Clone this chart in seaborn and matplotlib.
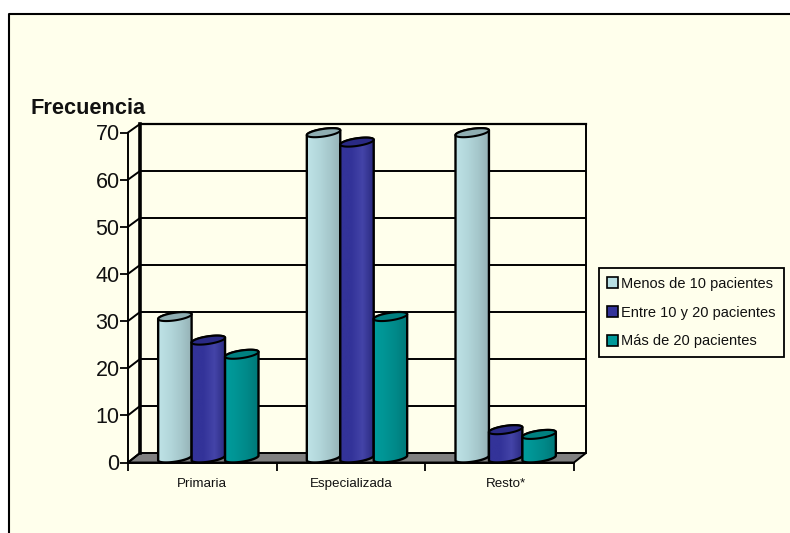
import numpy as np
import pandas as pd
import matplotlib
matplotlib.use("Agg")
import matplotlib.pyplot as plt
from matplotlib.patches import Patch, Polygon, Rectangle
from matplotlib.colors import LinearSegmentedColormap
import seaborn as sns

categories = ["Primaria", "Especializada", "Resto*"]
series_names = ["Menos de 10 pacientes", "Entre 10 y 20 pacientes", "Más de 20 pacientes"]
menos_10 = [30, 69, 69]
entre_10_20 = [25, 67, 6]
mas_20 = [22, 30, 5]
y_ticks = [0, 10, 20, 30, 40, 50, 60, 70]

colors = ["#B8DFE3", "#333399", "#009999"]
grad = [["#BEE3E7", "#B4D8DC", "#A6C8CC", "#96B2B6"],
        ["#333399", "#333399", "#4444A8", "#2A2A80"],
        ["#009C9C", "#009494", "#008888", "#007878"]]
tops = ["#8FAEB2", "#2A2A85", "#008080"]
CREAM = "#FFFFEC"

sns.set_theme(style="white")
plt.rcParams["font.family"] = ["Liberation Sans", "DejaVu Sans"]

W, H = 790, 533
fig = plt.figure(figsize=(W / 100, H / 100), dpi=100, facecolor="white")


def px_axes(x0, x1, ytop, ybot, z):
    a = fig.add_axes([x0 / W, 1 - ybot / H, (x1 - x0) / W, (ybot - ytop) / H], zorder=z)
    a.set_xlim(-0.5, 2.5)
    a.set_ylim(0, 70)
    a.patch.set_visible(False)
    return a


# chart area and floor, in pixel space
bg = fig.add_axes([0, 0, 1, 1], zorder=0)
bg.set_xlim(0, W)
bg.set_ylim(H, 0)
bg.axis("off")
FX0, FX1, FY0, FY1 = 128, 574, 462.5, 132.5   # front plane
BX0, BX1, BY0, BY1 = 140, 586, 453, 124       # back wall
bg.add_patch(Rectangle((9, 14), W - 9, H - 14, fc=CREAM, ec="none"))
bg.plot([9, 9, W], [H, 14, 14], color="black", lw=1.5, solid_capstyle="butt")
bg.add_patch(Polygon([(FX0, FY0), (BX0, BY0), (BX1, BY0), (FX1, FY0)],
                     fc="#808080", ec="black", lw=1.4))
for v in y_ticks:
    f = v / 70
    bg.plot([FX0, BX0], [FY0 + (FY1 - FY0) * f, BY0 + (BY1 - BY0) * f],
            color="black", lw=1.4)

# back wall
back = px_axes(BX0, BX1, BY1, BY0, 1)
back.set_yticks(y_ticks[1:-1])
back.set_xticks([])
back.tick_params(left=False, labelleft=False)
back.grid(axis="y", color="black", lw=1.4)
back.set_axisbelow(True)
for s, lw in [("left", 2.6), ("top", 1.6), ("right", 1.4), ("bottom", 0)]:
    back.spines[s].set_visible(lw > 0)
    back.spines[s].set_linewidth(lw)
    back.spines[s].set_color("black")

# front axis
front = px_axes(FX0, FX1, FY1, FY0, 2)
front.set_yticks(y_ticks)
front.set_xticks([0, 1, 2.04], categories)
front.set_xticks([-0.5, 0.5, 1.5, 2.5], minor=True)
front.tick_params(axis="y", left=True, length=6, width=1.3, color="black",
                  labelsize=15.5, labelcolor="#111111", pad=0)
front.tick_params(axis="x", which="major", bottom=False, labelsize=9.6,
                  labelcolor="#111111", pad=5)
front.tick_params(axis="x", which="minor", bottom=True, length=6, width=1.3, color="black")
for s in ["top", "right"]:
    front.spines[s].set_visible(False)
for s in ["left", "bottom"]:
    front.spines[s].set_linewidth(1.4)
    front.spines[s].set_color("black")

# bars on the middle plane
MX0, MX1, MY0, MY1 = 134, 580, 458, 128
ax = px_axes(MX0, MX1, MY1, MY0, 3)
df = pd.DataFrame({
    "categoria": categories * 3,
    "serie": np.repeat(series_names, 3),
    "frecuencia": menos_10 + entre_10_20 + mas_20,
})
sns.barplot(data=df, x="categoria", y="frecuencia", hue="serie", order=categories,
            hue_order=series_names, palette=colors, width=0.675, gap=0,
            legend=False, ax=ax, saturation=1)
ax.set_xlim(-0.5, 2.5)
ax.set_ylim(0, 70)
ax.axis("off")

sy = (MY0 - MY1) / 70         # px per value
EB, ES = 3.8 / sy, 2.4 / sy   # ellipse half height and tilt, in value units
t = np.linspace(0, 2 * np.pi, 61)

for i, cont in enumerate(ax.containers):
    cmap = LinearSegmentedColormap.from_list(f"c{i}", grad[i])
    for j, bar in enumerate(cont):
        x0, w, h = bar.get_x(), bar.get_width(), bar.get_height()
        bar.set_facecolor("none")
        bar.set_edgecolor("none")
        cx, a = x0 + w / 2, w / 2
        # cylinder outline: lower half of base ellipse, then upper half of top ellipse
        tb = np.linspace(np.pi, 2 * np.pi, 31)
        tt = np.linspace(0, np.pi, 31)
        xs = np.r_[cx + a * np.cos(tb), cx + a * np.cos(tt)]
        ys = np.r_[EB * np.sin(tb) + ES * np.cos(tb), h + EB * np.sin(tt) + ES * np.cos(tt)]
        z = 3 + i * 0.1 + j * 0.01
        body = Polygon(np.c_[xs, ys], closed=True, fc="none", ec="black", lw=1.7,
                       zorder=z, clip_on=False)
        ax.add_patch(body)
        im = ax.imshow(np.linspace(0, 1, 64)[None, :], cmap=cmap, aspect="auto",
                       extent=(x0, x0 + w, -2 * EB, h + 2 * EB), vmin=0, vmax=1,
                       zorder=z - 0.001)
        im.set_clip_box(fig.bbox)
        im.set_clip_path(body)
        top = Polygon(np.c_[cx + a * np.cos(t), h + EB * np.sin(t) + ES * np.cos(t)],
                      closed=True, fc=tops[i], ec="black", lw=1.5,
                      zorder=z + 0.001, clip_on=False)
        ax.add_patch(top)
ax.set_xlim(-0.5, 2.5)
ax.set_ylim(0, 70)

# title
fig.text(31 / W, 1 - 114 / H, "Frecuencia", fontsize=15.7, fontweight="bold",
         color="#111111", ha="left", va="baseline", zorder=5)

# legend
handles = [Patch(facecolor=c, edgecolor="black", linewidth=1.2) for c in colors]
leg = fig.legend(handles, series_names, loc="center", ncol=1,
                 bbox_to_anchor=(691.5 / W, 1 - 312.5 / H), fontsize=10.5,
                 frameon=True, fancybox=False, framealpha=1, facecolor=CREAM,
                 edgecolor="black", handlelength=0.75, handleheight=0.75,
                 handletextpad=0.2, labelspacing=1.02, borderpad=0.6,
                 borderaxespad=0, labelcolor="#111111")
leg.get_frame().set_linewidth(1.3)
leg.set_zorder(6)

fig.savefig("out.png", dpi=100, facecolor="white")
